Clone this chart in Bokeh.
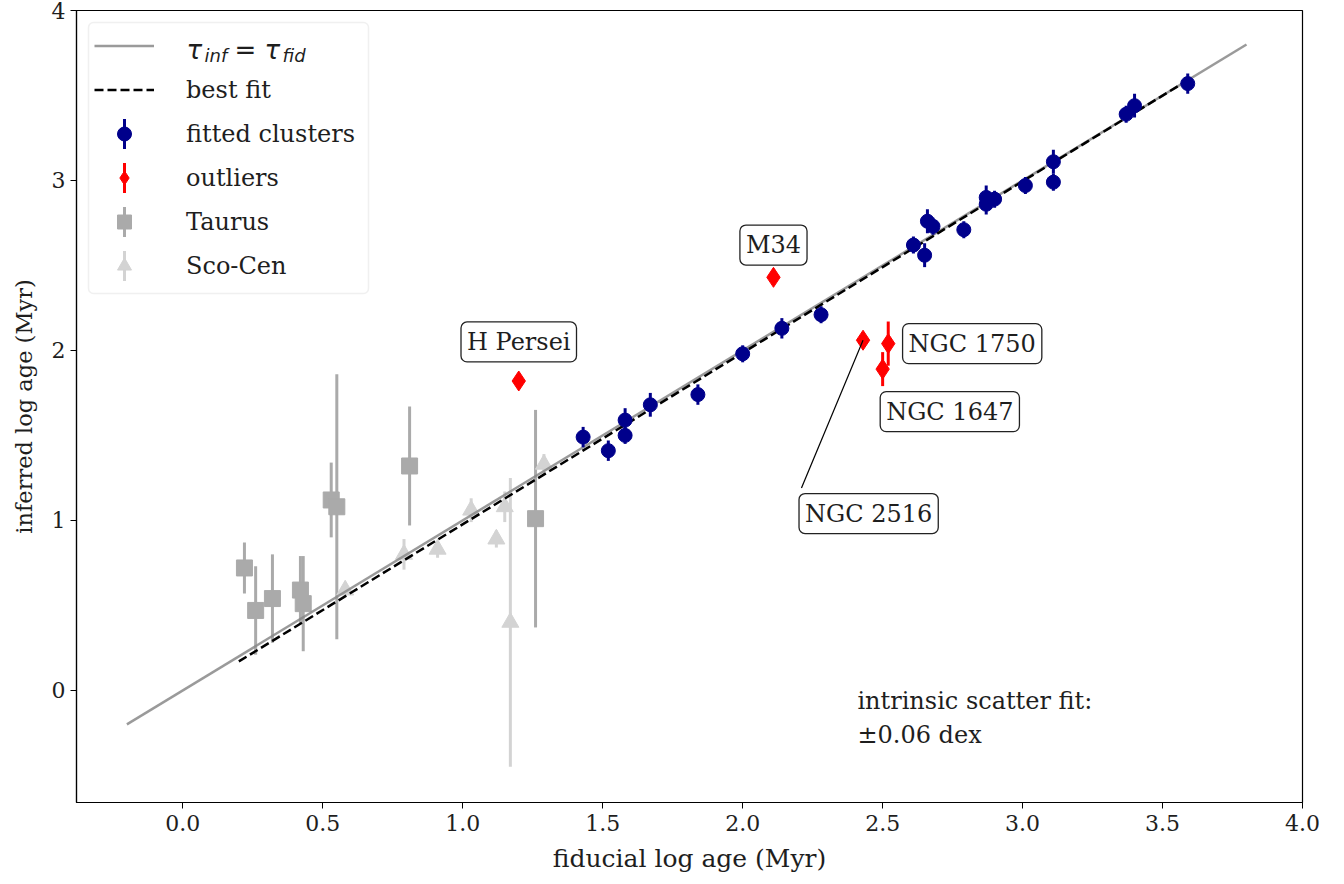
import math
from bokeh.plotting import figure
from bokeh.models import (ColumnDataSource, Range1d, Label, Legend, LegendItem,
                          FixedTicker, PrintfTickFormatter, BoxAnnotation)
from bokeh.embed import file_html
from bokeh.resources import INLINE

# ---------------- data ----------------
# fitted clusters: fiducial vs inferred log age (Myr)
fit_x = [1.43, 1.52, 1.58, 1.58, 1.67, 1.84, 2.00, 2.14, 2.28, 2.61, 2.65, 2.66,
         2.68, 2.79, 2.87, 2.87, 2.90, 3.01, 3.11, 3.11, 3.37, 3.40, 3.59]
fit_y = [1.49, 1.41, 1.59, 1.50, 1.68, 1.74, 1.98, 2.13, 2.21, 2.62, 2.56, 2.76,
         2.73, 2.71, 2.90, 2.86, 2.89, 2.97, 2.99, 3.11, 3.39, 3.44, 3.57]
fit_err = [0.06, 0.06, 0.07, 0.05, 0.07, 0.06, 0.05, 0.06, 0.05, 0.05, 0.07, 0.07,
           0.05, 0.05, 0.07, 0.06, 0.05, 0.05, 0.05, 0.07, 0.05, 0.07, 0.06]

# outliers
out_name = ["H Persei", "M34", "NGC 2516", "NGC 1750", "NGC 1647"]
out_x = [1.20, 2.11, 2.43, 2.52, 2.50]
out_y = [1.82, 2.43, 2.06, 2.04, 1.89]
out_err = [0.03, 0.03, 0.03, 0.13, 0.10]
# where each outlier's name is written
out_label_x = [1.20, 2.11, 2.45, 2.82, 2.74]
out_label_y = [2.05, 2.62, 1.04, 2.04, 1.64]

# Taurus
tau_x = [0.22, 0.26, 0.32, 0.42, 0.43, 0.53, 0.55, 0.81, 1.26]
tau_y = [0.72, 0.47, 0.54, 0.59, 0.51, 1.12, 1.08, 1.32, 1.01]
tau_err = [0.15, 0.26, 0.26, 0.20, 0.28, 0.22, 0.78, 0.35, 0.64]

# Sco-Cen
sco_x = [0.58, 0.79, 0.91, 1.03, 1.12, 1.15, 1.17, 1.29]
sco_y = [0.59, 0.80, 0.83, 1.06, 0.89, 1.08, 0.40, 1.33]
sco_err = [0.04, 0.09, 0.05, 0.07, 0.05, 0.09, 0.85, 0.06]

# one-to-one relation and best-fit line
ident_x = [-0.2, 3.8]
ident_y = [-0.2, 3.8]
best_x = [0.20, 3.58]
best_y = [0.17, 3.58]

x_ticks = [0.0, 0.5, 1.0, 1.5, 2.0, 2.5, 3.0, 3.5, 4.0]
y_ticks = [0, 1, 2, 3, 4]

scatter_text = ["intrinsic scatter fit:", "\u00b10.06 dex"]

# ---------------- styling ----------------
SERIF = "DejaVu Serif"
NAVY = "#00008b"
TAU_C = "#aaaaaa"
SCO_C = "#d3d3d3"
TXT_C = "#1e1e1e"

W, H = 1344, 884
BORDER_L, BORDER_R, BORDER_T, BORDER_B = 76, 42, 10, 82


def err_source(xs, ys, es):
    return ColumnDataSource(dict(
        x=xs, y=ys,
        lo=[y - e for y, e in zip(ys, es)],
        hi=[y + e for y, e in zip(ys, es)],
    ))


p = figure(width=W, height=H, output_backend="svg", toolbar_location=None,
           x_range=Range1d(-0.38, 4.0), y_range=Range1d(-0.66, 4.0),
           min_border_left=BORDER_L, min_border_right=BORDER_R,
           min_border_top=BORDER_T, min_border_bottom=BORDER_B)
p.xgrid.visible = False
p.ygrid.visible = False
p.outline_line_color = "black"
p.outline_line_width = 1.2
p.background_fill_color = "white"

for ax in (p.xaxis[0], p.yaxis[0]):
    ax.axis_line_width = 1.2
    ax.major_tick_out = 6
    ax.major_tick_in = 0
    ax.minor_tick_out = 0
    ax.minor_tick_in = 0
    ax.major_label_text_font = SERIF
    ax.major_label_text_font_size = "22px"
    ax.major_label_text_color = TXT_C
    ax.axis_label_text_font = SERIF
    ax.axis_label_text_font_style = "normal"
    ax.axis_label_text_color = TXT_C

p.xaxis.ticker = FixedTicker(ticks=x_ticks)
p.yaxis.ticker = FixedTicker(ticks=y_ticks)
p.xaxis.formatter = PrintfTickFormatter(format="%.1f")
p.yaxis.formatter = PrintfTickFormatter(format="%d")
p.xaxis.axis_label = "fiducial log age (Myr)"
p.yaxis.axis_label = "inferred log age (Myr)"
p.xaxis.axis_label_text_font_size = "25px"
p.yaxis.axis_label_text_font_size = "22.5px"
p.xaxis.major_label_standoff = 6
p.xaxis.axis_label_standoff = 10
p.yaxis.axis_label_standoff = 12

# Taurus
tau_src = err_source(tau_x, tau_y, tau_err)
p.segment(x0="x", y0="lo", x1="x", y1="hi", source=tau_src,
          line_color=TAU_C, line_width=3)
tau_r = p.scatter("x", "y", source=tau_src, marker="square", size=16,
                  fill_color=TAU_C, line_color=TAU_C)

# Sco-Cen
sco_src = err_source(sco_x, sco_y, sco_err)
p.segment(x0="x", y0="lo", x1="x", y1="hi", source=sco_src,
          line_color=SCO_C, line_width=3)
sco_r = p.scatter("x", "y", source=sco_src, marker="triangle", size=17,
                  fill_color=SCO_C, line_color=SCO_C)

# reference lines
ident_r = p.line(ident_x, ident_y, line_color="#888888", line_alpha=0.85,
                 line_width=2.5)
best_r = p.line(best_x, best_y, line_color="black", line_width=2.5,
                line_dash="9 4")

# fitted clusters
fit_src = err_source(fit_x, fit_y, fit_err)
p.segment(x0="x", y0="lo", x1="x", y1="hi", source=fit_src,
          line_color=NAVY, line_width=3)
fit_r = p.scatter("x", "y", source=fit_src, marker="circle", size=14,
                  fill_color=NAVY, line_color=NAVY)

# outliers
out_src = err_source(out_x, out_y, out_err)
p.segment(x0="x", y0="lo", x1="x", y1="hi", source=out_src,
          line_color="red", line_width=3)
out_r = p.scatter("x", "y", source=out_src, marker="diamond", size=20,
                  fill_color="red", line_color="red")

# leader line from NGC 2516 to its label box
i2516 = out_name.index("NGC 2516")
p.segment(x0=[out_x[i2516]], y0=[out_y[i2516]],
          x1=[out_label_x[i2516] - 0.24], y1=[out_label_y[i2516] + 0.15],
          line_color="black", line_width=1.2)

label_props = Label.properties()
for name, lx, ly in zip(out_name, out_label_x, out_label_y):
    kw = dict(x=lx, y=ly, text=name, text_align="center", text_baseline="middle",
              text_font=SERIF, text_font_size="24px", text_color=TXT_C,
              background_fill_color="white", border_line_color="#222222",
              border_line_width=1.3)
    if "padding" in label_props:
        kw["padding"] = 6
    if "border_radius" in label_props:
        kw["border_radius"] = 6
    p.add_layout(Label(**kw))

for txt, yy in zip(scatter_text, [-0.06, -0.26]):
    p.add_layout(Label(x=2.41, y=yy, text=txt, text_align="left",
                       text_baseline="middle", text_font=SERIF,
                       text_font_size="24px", text_color=TXT_C))

# ---------------- legend ----------------
LEG_MARGIN, LEG_PAD = 12, 6
GLYPH_W, ROW_H, ROW_GAP = 60, 35, 9
STANDOFF = 32
N_ROWS = 6
LEG_W = 280
LEG_H = 2 * 8 + N_ROWS * ROW_H + (N_ROWS - 1) * ROW_GAP

frame_h = H - BORDER_T - BORDER_B
frame_bottom = H - BORDER_B

# legend frame, drawn underneath so the legend contents stay on top
box_kw = dict(left=LEG_MARGIN, right=LEG_MARGIN + LEG_W,
              top=frame_h - LEG_MARGIN, bottom=frame_h - LEG_MARGIN - LEG_H,
              left_units="screen", right_units="screen",
              top_units="screen", bottom_units="screen",
              fill_color="white", fill_alpha=0.85,
              line_color="#cccccc", line_width=1.5, level="annotation")
if "border_radius" in BoxAnnotation.properties():
    box_kw["border_radius"] = 5
p.add_layout(BoxAnnotation(**box_kw))

legend = Legend(items=[
    LegendItem(label=" ", renderers=[ident_r]),
    LegendItem(label="best fit", renderers=[best_r]),
    LegendItem(label="fitted clusters", renderers=[fit_r]),
    LegendItem(label="outliers", renderers=[out_r]),
    LegendItem(label="Taurus", renderers=[tau_r]),
    LegendItem(label="Sco-Cen", renderers=[sco_r]),
], location="top_left")
legend.label_text_font = SERIF
legend.label_text_font_size = "24px"
legend.label_text_color = TXT_C
legend.glyph_width = GLYPH_W
legend.glyph_height = ROW_H
legend.label_height = ROW_H
legend.spacing = ROW_GAP
legend.padding = LEG_PAD
legend.margin = LEG_MARGIN
legend.label_standoff = STANDOFF
legend.border_line_alpha = 0.0
legend.background_fill_alpha = 0.0
p.add_layout(legend)

# legend rows in canvas pixels; screen units count from the frame's bottom-left
glyph_cx = BORDER_L + LEG_MARGIN + LEG_PAD + GLYPH_W / 2
row_cy = [BORDER_T + LEG_MARGIN + LEG_PAD + ROW_H / 2 + i * (ROW_H + ROW_GAP)
          for i in range(N_ROWS)]

# vertical error-bar strokes through the legend markers
for row, color in zip([2, 3, 4, 5], [NAVY, "red", TAU_C, SCO_C]):
    p.add_layout(BoxAnnotation(
        left=glyph_cx - BORDER_L - 1.5, right=glyph_cx - BORDER_L + 1.5,
        bottom=frame_bottom - (row_cy[row] + 15), top=frame_bottom - (row_cy[row] - 15),
        left_units="screen", right_units="screen",
        bottom_units="screen", top_units="screen",
        fill_color=color, fill_alpha=1.0, line_alpha=0.0, level="overlay"))

# tau_inf = tau_fid next to the first legend glyph
label_x0 = BORDER_L + LEG_MARGIN + LEG_PAD + GLYPH_W + STANDOFF
math_parts = [("\u03c4", 0, 4, "26px", "italic"),
              ("inf", 18, 9, "18px", "italic"),
              ("=", 48, 4, "26px", "normal"),
              ("\u03c4", 78, 4, "26px", "italic"),
              ("fid", 96, 9, "18px", "italic")]
for txt, dx, dy, fs, st in math_parts:
    p.add_layout(Label(x=label_x0 + dx - BORDER_L, y=frame_bottom - (row_cy[0] + dy),
                       x_units="screen", y_units="screen", text=txt,
                       text_font="DejaVu Sans", text_font_size=fs,
                       text_font_style=st, text_baseline="alphabetic",
                       text_color=TXT_C, level="overlay"))

open("out.html", "w").write(file_html(p, INLINE))
